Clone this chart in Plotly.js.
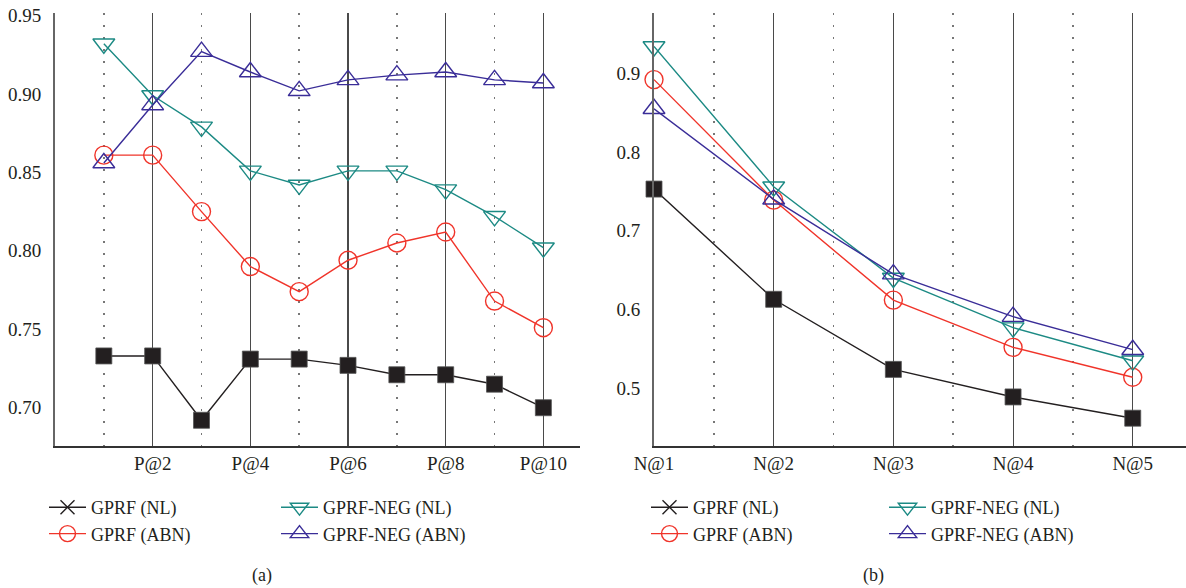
<!DOCTYPE html>
<html>
<head>
<meta charset="utf-8">
<script src="https://cdn.plot.ly/plotly-3.0.1.min.js"></script>
<style>html,body{margin:0;padding:0;background:#fff;}#chart{width:1186px;height:588px;}</style>
</head>
<body>
<div id="chart"></div>
<script>
// ---- Data ----
const precisionK = [1, 2, 3, 4, 5, 6, 7, 8, 9, 10];
const precisionTickVals = [2, 4, 6, 8, 10];
const precisionTickText = ['P@2', 'P@4', 'P@6', 'P@8', 'P@10'];
const precisionMinorVals = [1, 3, 5, 7, 9];
const precisionYTicks = [0.70, 0.75, 0.80, 0.85, 0.90, 0.95];
const precisionYText = ['0.70', '0.75', '0.80', '0.85', '0.90', '0.95'];

const pGprfNL     = [0.733, 0.733, 0.692, 0.731, 0.731, 0.727, 0.721, 0.721, 0.715, 0.700];
const pGprfABN    = [0.861, 0.861, 0.825, 0.790, 0.774, 0.794, 0.805, 0.812, 0.768, 0.751];
const pGprfNegNL  = [0.932, 0.899, 0.879, 0.851, 0.842, 0.851, 0.851, 0.839, 0.822, 0.802];
const pGprfNegABN = [0.856, 0.893, 0.927, 0.914, 0.902, 0.909, 0.912, 0.914, 0.909, 0.907];

const ndcgK = [1, 2, 3, 4, 5];
const ndcgTickText = ['N@1', 'N@2', 'N@3', 'N@4', 'N@5'];
const ndcgMinorVals = [1.5, 2.5, 3.5, 4.5];
const ndcgYTicks = [0.5, 0.6, 0.7, 0.8, 0.9];
const ndcgYText = ['0.5', '0.6', '0.7', '0.8', '0.9'];

const nGprfNL     = [0.753, 0.613, 0.524, 0.489, 0.462];
const nGprfABN    = [0.892, 0.739, 0.612, 0.552, 0.514];
const nGprfNegNL  = [0.934, 0.756, 0.640, 0.577, 0.535];
const nGprfNegABN = [0.855, 0.740, 0.645, 0.591, 0.549];

const seriesNames = ['GPRF (NL)', 'GPRF (ABN)', 'GPRF-NEG (NL)', 'GPRF-NEG (ABN)'];
const captions = ['(a)', '(b)'];

// ---- Styles ----
const C_BLACK = '#231f20', C_RED = '#f0342a', C_TEAL = '#1c8a84', C_PURPLE = '#3a2d98';
const FONT = '"Liberation Serif", "Times New Roman", serif';
const W = 1186, H = 588;

function series(x, y, name, color, symbol, size, xa, ya, leg, show) {
  const filled = symbol === 'square';
  return {
    x: x, y: y, name: name, type: 'scatter', mode: 'lines+markers',
    xaxis: xa, yaxis: ya, legend: leg, showlegend: show, cliponaxis: false,
    line: {color: color, width: 1.4},
    marker: filled ? {symbol: symbol, size: size, color: color, line: {width: 0.8, color: '#555'}}
                   : {symbol: symbol, size: size, color: color, line: {color: color, width: 1.4}}
  };
}
function legendOnly(name, color, symbol, size, xa, ya, leg) {
  return {
    x: [null], y: [null], name: name, type: 'scatter', mode: 'lines+markers',
    xaxis: xa, yaxis: ya, legend: leg, showlegend: true,
    line: {color: color, width: 1.4},
    marker: {symbol: symbol, size: size, color: color, line: {color: color, width: 1.4}}
  };
}

const traces = [
  // panel (a)
  series(precisionK, pGprfNL, seriesNames[0], C_BLACK, 'square', 16, 'x', 'y', 'legend', false),
  legendOnly(seriesNames[0], C_BLACK, 'x-thin-open', 14, 'x', 'y', 'legend'),
  series(precisionK, pGprfABN, seriesNames[1], C_RED, 'circle-open', 18, 'x', 'y', 'legend', true),
  series(precisionK, pGprfNegNL, seriesNames[2], C_TEAL, 'triangle-down-open', 19, 'x', 'y', 'legend2', true),
  series(precisionK, pGprfNegABN, seriesNames[3], C_PURPLE, 'triangle-up-open', 19, 'x', 'y', 'legend2', true),
  // panel (b)
  series(ndcgK, nGprfNL, seriesNames[0], C_BLACK, 'square', 16, 'x2', 'y2', 'legend3', false),
  legendOnly(seriesNames[0], C_BLACK, 'x-thin-open', 14, 'x2', 'y2', 'legend3'),
  series(ndcgK, nGprfABN, seriesNames[1], C_RED, 'circle-open', 18, 'x2', 'y2', 'legend3', true),
  series(ndcgK, nGprfNegNL, seriesNames[2], C_TEAL, 'triangle-down-open', 19, 'x2', 'y2', 'legend4', true),
  series(ndcgK, nGprfNegABN, seriesNames[3], C_PURPLE, 'triangle-up-open', 19, 'x2', 'y2', 'legend4', true)
];

const yDom = [1 - 446 / H, 1 - 13 / H];
const tickFont = {family: FONT, size: 19, color: C_BLACK};
const legFont = {family: FONT, size: 18, color: C_BLACK};

function xAxis(domain, range, tv, tt, minorVals) {
  return {
    domain: domain, range: range, tickmode: 'array', tickvals: tv, ticktext: tt,
    showgrid: true, gridcolor: '#4a4a4a', gridwidth: 1.1, zeroline: false,
    showline: true, linecolor: '#333', linewidth: 1.5, ticks: '',
    tickfont: tickFont, fixedrange: true,
    minor: {tickmode: 'array', tickvals: minorVals, showgrid: true, gridcolor: '#777',
            griddash: '1.5px,10.5px', gridwidth: 1.5, ticks: ''}
  };
}
function yAxis(anchor, range, tv, tt) {
  return {
    domain: yDom, anchor: anchor, range: range, tickmode: 'array', tickvals: tv, ticktext: tt,
    showgrid: false, zeroline: false, showline: true, linecolor: '#666', linewidth: 2,
    ticks: '', ticklabelstandoff: 8, tickfont: tickFont, fixedrange: true
  };
}
function legend(xpx, ypx) {
  return {x: xpx / W, y: 1 - ypx / H, xanchor: 'left', yanchor: 'top', orientation: 'v',
          font: legFont, bgcolor: 'rgba(0,0,0,0)', borderwidth: 0, itemwidth: 37};
}

const layout = {
  width: W, height: H,
  margin: {l: 0, r: 0, t: 0, b: 0},
  paper_bgcolor: '#fff', plot_bgcolor: '#fff',
  font: {family: FONT, color: C_BLACK},
  xaxis: xAxis([55 / W, 580 / W], [0, 10.75], precisionTickVals, precisionTickText, precisionMinorVals),
  yaxis: yAxis('x', [0.6756, 0.9516], precisionYTicks, precisionYText),
  xaxis2: xAxis([654 / W, 1], [1, 5.445], ndcgK, ndcgTickText, ndcgMinorVals),
  yaxis2: yAxis('x2', [0.4267, 0.9766], ndcgYTicks, ndcgYText),
  legend: legend(44, 489),
  legend2: legend(276, 489),
  legend3: legend(646, 489),
  legend4: legend(884, 489),
  annotations: [
    {text: captions[0], xref: 'paper', yref: 'paper', x: 262 / W, y: 1 - 575 / H,
     xanchor: 'center', yanchor: 'middle',
     showarrow: false, font: {family: FONT, size: 18, color: C_BLACK}},
    {text: captions[1], xref: 'paper', yref: 'paper', x: 873 / W, y: 1 - 575 / H,
     xanchor: 'center', yanchor: 'middle',
     showarrow: false, font: {family: FONT, size: 18, color: C_BLACK}}
  ]
};
layout.xaxis.anchor = 'y';
layout.xaxis2.anchor = 'y2';

Plotly.newPlot('chart', traces, layout, {displayModeBar: false, staticPlot: true});
</script>
</body>
</html>
